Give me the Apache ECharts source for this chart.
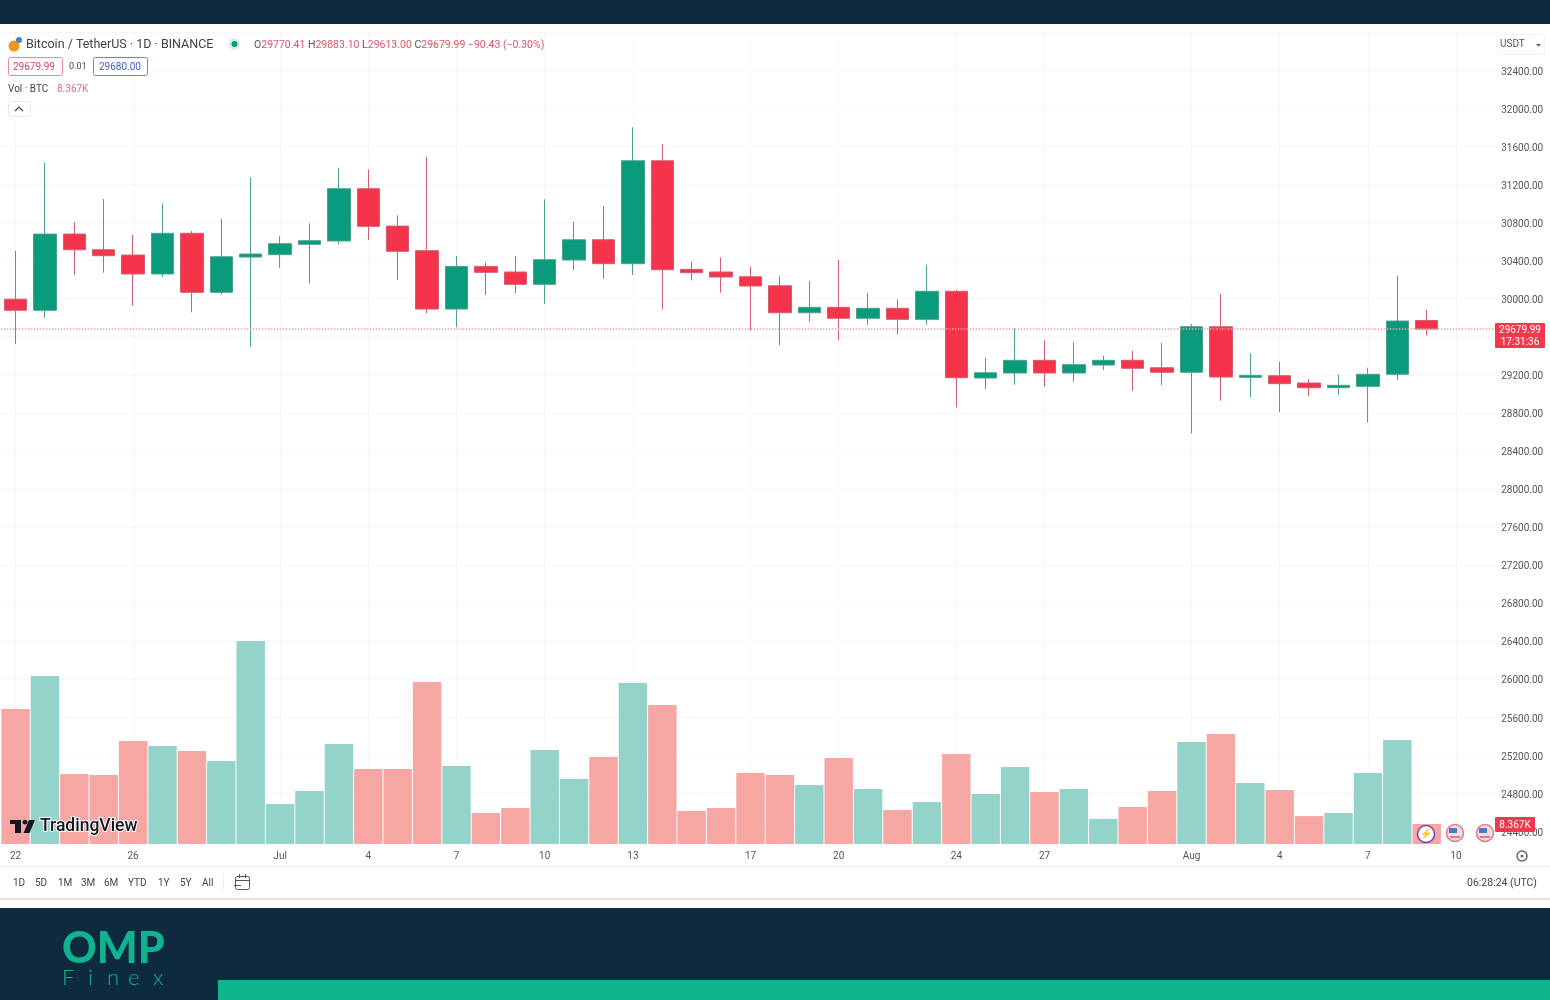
<!DOCTYPE html>
<html>
<head>
<meta charset="utf-8">
<title>BTC/USDT 1D</title>
<script src="https://cdn.jsdelivr.net/npm/echarts@6/dist/echarts.min.js"></script>
<style>
html,body{margin:0;padding:0;background:#fff;}
#chart{width:1550px;height:1000px;}
</style>
</head>
<body>
<div id="chart"></div>
<script>
var days = ['Jun 22','Jun 23','Jun 24','Jun 25','Jun 26','Jun 27','Jun 28','Jun 29','Jun 30',
  'Jul 1','Jul 2','Jul 3','Jul 4','Jul 5','Jul 6','Jul 7','Jul 8','Jul 9','Jul 10','Jul 11','Jul 12','Jul 13','Jul 14','Jul 15','Jul 16',
  'Jul 17','Jul 18','Jul 19','Jul 20','Jul 21','Jul 22','Jul 23','Jul 24','Jul 25','Jul 26','Jul 27','Jul 28','Jul 29','Jul 30','Jul 31',
  'Aug 1','Aug 2','Aug 3','Aug 4','Aug 5','Aug 6','Aug 7','Aug 8','Aug 9','Aug 10','Aug 11'];
var tickDays = ['Jun 22','Jun 26','Jul 1','Jul 4','Jul 7','Jul 10','Jul 13','Jul 17','Jul 20','Jul 24','Jul 27','Aug 1','Aug 4','Aug 7','Aug 10'];
var tickLabels = ['22','26','Jul','4','7','10','13','17','20','24','27','Aug','4','7','10'];

var opens = [29995,29878,30680,30515,30459,30260,30688,30067,30438,30463,30572,30607,31157,30764,30505,29891,30340,
  30281,30151,30407,30620,30368,31451,30309,30281,30231,30136,29852,29909,29794,29899,29783,30078,
  29166,29218,29352,29218,29302,29352,29274,29226,29705,29173,29190,29113,29064,29078,29205,29770.41];
var closes = [29878,30680,30515,30452,30260,30688,30067,30441,30470,30578,30610,31157,30761,30498,29891,30340,30277,
  30151,30410,30620,30368,31451,30305,30273,30228,30133,29852,29909,29794,29899,29783,30078,29169,
  29221,29352,29218,29306,29352,29268,29226,29705,29176,29194,29106,29064,29089,29205,29765,29679.99];
var lows = [29523,29797,30249,30273,29926,30228,29857,30046,29495,30323,30158,30572,30617,30196,29846,29699,30039,
  30057,29947,30302,30210,30249,29891,30193,30063,29663,29510,29758,29565,29726,29621,29726,28857,
  29047,29095,29074,29127,29250,29029,29092,28584,28927,28966,28805,28976,28987,28696,29145,29613];
var highs = [30502,31430,30806,31048,30670,31003,30712,30841,31277,30656,30793,31378,31357,30877,31493,30449,30383,
  30449,31045,30810,30975,31803,31627,30389,30435,30336,30238,30189,30407,30063,29993,30357,30091,
  29379,29688,29565,29541,29400,29450,29534,29734,30049,29426,29337,29152,29200,29274,30242,29883.1];
// volume in K BTC
var volumes = [56.5,70.3,29.3,28.9,43.1,41.0,38.9,34.8,85.0,16.7,22.2,41.9,31.4,31.4,67.8,32.7,13.0,
  15.1,39.4,27.2,36.4,67.4,58.2,13.8,15.1,29.7,28.9,24.7,36.0,23.0,14.2,17.6,37.7,
  20.9,32.2,21.8,23.0,10.5,15.5,22.2,42.7,46.1,25.5,22.6,11.7,13.0,29.7,43.5,8.367];
var lastPrice = 29679.99;
var rangeNames = ['1D','5D','1M','3M','6M','YTD','1Y','5Y','All'];
var rangeX = [13,35,58,81,104,128,158,180,202];

var UP = '#0a9a7c', DOWN = '#f5334a', UP_WICK = '#4f9f8e', DOWN_WICK = '#cf5f70', UP_VOL = '#93d3c9', DOWN_VOL = '#f6a7a4';
var NAVY = '#0e2a3f', TEAL = '#10b48c', GRID = '#f5f6f8', FONT = 'Roboto, sans-serif';

var candles = [];
for (var i = 0; i < opens.length; i++) {
  candles.push([opens[i], closes[i], lows[i], highs[i]]);
}

function box(x, y, w, h, fill, stroke, r, z) {
  return {type:'rect', shape:{x:x, y:y, width:w, height:h, r:r || 0}, style:{fill:fill, stroke:stroke || null, lineWidth:1}, silent:true, z:z || 20};
}
function label(x, y, str, size, color, extra) {
  var st = {x:x, y:y, text:str, font:(size) + 'px ' + FONT, fill:color, verticalAlign:'middle'};
  for (var k in extra) { st[k] = extra[k]; }
  return {type:'text', style:st, silent:true, z:23};
}
function dot(x, y, r, fill, stroke) {
  return {type:'circle', shape:{cx:x, cy:y, r:r}, style:{fill:fill, stroke:stroke || null, lineWidth:1.5}, silent:true, z:21};
}
function line(x1, y1, x2, y2, color, w) {
  return {type:'line', shape:{x1:x1, y1:y1, x2:x2, y2:y2}, style:{stroke:color, lineWidth:w || 1}, silent:true, z:20};
}

var chrome = [
  // page bands
  box(0, 0, 1550, 24, NAVY),
  box(0, 908, 1550, 92, NAVY),
  box(218, 980, 1332, 20, TEAL),
  line(0, 866.5, 1550, 866.5, '#eef0f2', 1),
  line(0, 899, 1550, 899, '#dfe2e8', 2),
  // header
  dot(14, 46, 5.5, '#f0951f'),
  dot(19, 40, 3, '#3f86c6'),
  label(26, 44.5, 'Bitcoin / TetherUS · 1D · BINANCE', 12.5, '#3c4048'),
  dot(234.5, 44, 6, '#d8efe9'),
  dot(234.5, 44, 3, UP),
  {type:'text', silent:true, z:23, style:{x:254, y:45, verticalAlign:'middle', font:'10.5px ' + FONT,
    text:'{d|O}{r|29770.41} {d|H}{r|29883.10} {d|L}{r|29613.00} {d|C}{r|29679.99} {r|−90.43 (−0.30%)}',
    rich:{d:{fill:'#555', font:'10.5px ' + FONT}, r:{fill:'#d9566a', font:'10.5px ' + FONT}}}},
  box(8.5, 57.5, 54, 18, '#fff', '#e58d9b', 2),
  label(13, 67, '29679.99', 10, '#d9465a'),
  label(69, 66.5, '0.01', 9, '#444'),
  box(93.5, 57.5, 54, 18, '#fff', '#7088bd', 2),
  label(99, 67, '29680.00', 10, '#3f62b0'),
  label(8, 89.5, 'Vol · BTC', 10, '#444'),
  label(57, 89.5, '8.367K', 10, '#e0707a'),
  box(8.5, 101.5, 22, 15, '#fff', '#e6e8eb', 2),
  {type:'polyline', shape:{points:[[15,111],[19,107],[23,111]]}, style:{stroke:'#444', lineWidth:1.2, fill:null}, silent:true, z:21},
  // price scale extras
  box(1497.5, 34.5, 47, 20, '#fff', '#f2f3f5', 2),
  label(1500, 44.5, 'USDT', 10, '#555'),
  {type:'polygon', shape:{points:[[1536,44],[1541,44],[1538.5,46.5]]}, style:{fill:'#555'}, silent:true, z:21},
  box(1495, 323, 50, 25, '#ee3a4c', null, 1),
  label(1520, 330, '29679.99', 10, '#fff', {align:'center'}),
  label(1520, 342, '17:31:36', 10, '#fff', {align:'center'}),
  box(1495, 817, 40, 15, '#ee3a4c', null, 1),
  label(1515, 825, '8.367K', 10, '#fff', {align:'center'}),
  // event markers on the last bars
  dot(1426, 834, 8.5, '#fff', '#7a3fa8'),
  label(1426, 834.5, '⚡', 10, '#7a3fa8', {align:'center'}),
  dot(1455, 833, 8.5, '#f3d9dc', '#d97c88'),
  box(1449, 828, 8, 5, '#4a78c8', null, 0, 22),
  box(1450, 836, 10, 2, '#d97c88', null, 0, 22),
  dot(1485, 833, 8.5, '#f3d9dc', '#d97c88'),
  box(1479, 828, 8, 5, '#4a78c8', null, 0, 22),
  box(1480, 836, 10, 2, '#d97c88', null, 0, 22),
  // gear
  dot(1522, 856, 5, '#fff', '#666'),
  dot(1522, 856, 1.5, '#666'),
  // TradingView logo
  box(10, 820, 11, 4, '#131722'),
  box(15, 820, 6, 13, '#131722'),
  dot(25, 822.2, 2.4, '#131722'),
  {type:'polygon', shape:{points:[[29,820],[35,820],[29.5,833],[23.5,833]]}, style:{fill:'#131722'}, silent:true, z:21},
  label(40, 827, 'TradingView', 17.5, '#131722', {font:'500 17.5px ' + FONT, stroke:'#fff', lineWidth:2}),
  // bottom toolbar
  line(223.5, 873, 223.5, 891, '#eceef1', 1),
  box(235.5, 876.5, 14, 13, 'rgba(0,0,0,0)', '#555', 2),
  line(235, 880.5, 250, 880.5, '#555', 1),
  line(239.5, 874, 239.5, 878, '#555', 1),
  line(245.5, 874, 245.5, 878, '#555', 1),
  line(234, 885.5, 241, 885.5, '#555', 1),
  label(1467, 883, '06:28:24 (UTC)', 10.5, '#444'),
  // OMP Finex logo
  label(62, 949.5, 'OMP', 43, TEAL, {font:'900 43px Lato, sans-serif'}),
  label(62, 978, 'F', 22, TEAL, {font:'300 22px Lato, sans-serif'}),
  label(88, 978, 'i', 22, TEAL, {font:'300 22px Lato, sans-serif'}),
  label(107, 978, 'n', 22, TEAL, {font:'300 22px Lato, sans-serif'}),
  label(128, 978, 'e', 22, TEAL, {font:'300 22px Lato, sans-serif'}),
  label(153, 978, 'x', 22, TEAL, {font:'300 22px Lato, sans-serif'})
];
for (var n = 0; n < rangeNames.length; n++) {
  chrome.push(label(rangeX[n], 883, rangeNames[n], 10, '#444'));
}

function isTick(i, v) { return tickDays.indexOf(v) >= 0; }

var myChart = echarts.init(document.getElementById('chart'));
myChart.setOption({
  animation: false,
  backgroundColor: '#fff',
  textStyle: {fontFamily: FONT},
  graphic: chrome,
  grid: [
    {left: 0.8, width: 1499.4, top: 32.5, height: 798.6},
    {left: 0.8, width: 1499.4, top: 641, height: 203}
  ],
  xAxis: [
    {
      type: 'category', gridIndex: 0, data: days,
      axisLine: {show: false}, axisTick: {show: false}, axisLabel: {show: false},
      splitLine: {show: true, interval: isTick, alignWithLabel: true, lineStyle: {color: GRID, width: 1}}
    },
    {
      type: 'category', gridIndex: 1, data: days,
      axisLine: {show: false}, axisTick: {show: false},
      axisLabel: {
        interval: isTick, margin: 7, fontSize: 10, color: '#555',
        formatter: function (v) { return tickLabels[tickDays.indexOf(v)]; }
      }
    }
  ],
  yAxis: [
    {
      type: 'value', gridIndex: 0, position: 'right', min: 24400, max: 32800, interval: 400,
      axisLine: {show: false}, axisTick: {show: false},
      splitLine: {lineStyle: {color: GRID, width: 1}},
      axisLabel: {
        margin: 1, fontSize: 10, color: '#555', showMaxLabel: false, verticalAlign: 'top', lineHeight: 4,
        formatter: function (v) { return v.toFixed(2); }
      }
    },
    {type: 'value', gridIndex: 1, min: 0, max: 85, show: false}
  ],
  series: [
    {
      type: 'bar', xAxisIndex: 1, yAxisIndex: 1, data: volumes, barWidth: 28.4,
      itemStyle: {
        color: function (p) { return closes[p.dataIndex] >= opens[p.dataIndex] ? UP_VOL : DOWN_VOL; }
      },
      silent: true
    },
    {
      type: 'candlestick', xAxisIndex: 0, yAxisIndex: 0, data: candles, barWidth: 23,
      itemStyle: {color: UP, color0: DOWN, borderColor: UP_WICK, borderColor0: DOWN_WICK, borderWidth: 1},
      markLine: {
        silent: true, symbol: 'none', label: {show: false},
        lineStyle: {color: '#e3a6ab', type: 'dotted', width: 1.5},
        data: [{yAxis: lastPrice}]
      }
    }
  ]
});
</script>
</body>
</html>
